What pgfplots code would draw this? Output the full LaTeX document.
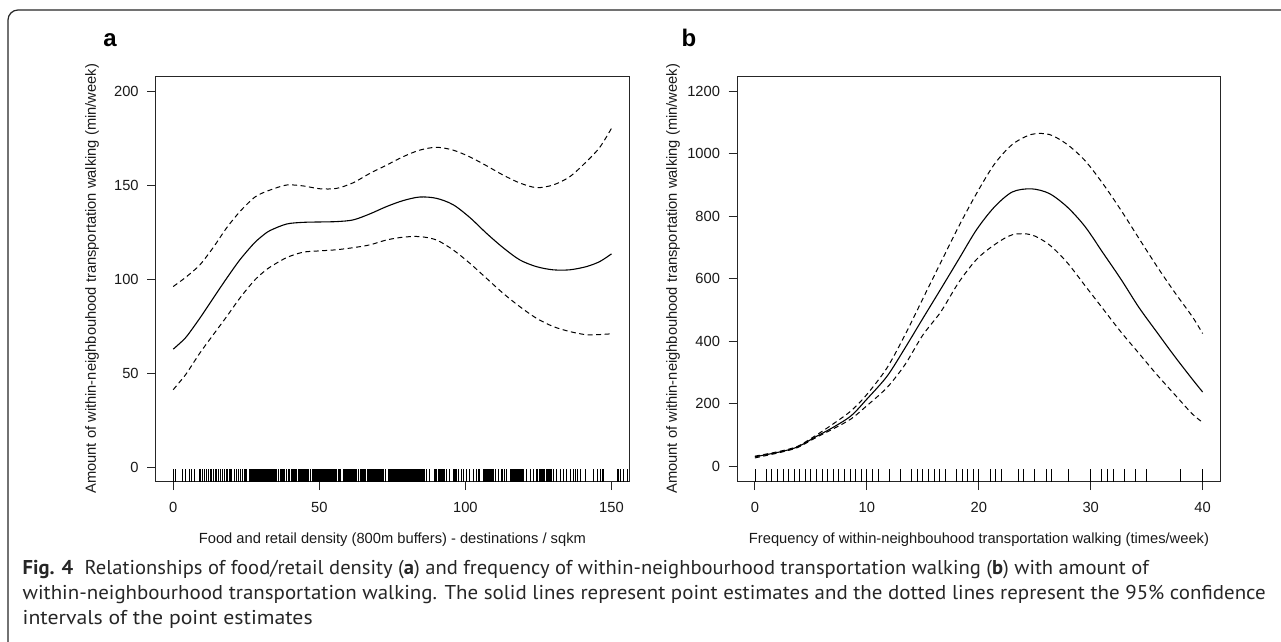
\documentclass[border=0pt]{standalone}
\usepackage{pgfplots}
\usepackage{pgfplotstable}
\pgfplotsset{compat=1.18}
\usepackage{fontspec}
\setmainfont{Liberation Sans}
\newfontfamily\capfont{PT Sans}
\usepackage{graphicx}

% panel a: smooth estimate and 95% CI
\pgfplotstableread{
x     est    lo     up
0     62.8   41.2   96.2
2.3   66.0   45.5   98.8
4.6   69.6   50.0   101.5
9.1   79.3   60.7   107.7
13.7  90.0   70.5   117.0
18.3  100.6  80.2   127.5
22.8  110.4  90.0   136.1
27.4  118.8  98.8   143.2
30.2  122.8  103.0  145.8
33.1  126.0  106.5  147.6
38.8  129.5  111.6  150.3
44.5  130.4  114.5  149.8
50.2  130.6  115.2  148.3
55.9  130.8  115.8  148.5
61.6  131.7  116.9  151.5
67.3  134.9  118.4  156.5
73.0  138.8  121.0  160.9
78.7  142.0  122.5  165.4
84.4  143.9  122.8  168.9
90.1  143.2  121.0  170.4
95.8  139.8  115.7  168.9
101.5 133.0  108.6  165.3
107.2 124.6  100.6  160.6
112.9 116.9  92.6   155.6
118.6 110.4  85.5   151.4
124.3 106.8  79.3   148.9
130.0 105.1  74.9   150.3
135.7 105.1  72.2   154.7
141.4 106.8  70.5   162.7
146.0 109.5  70.6   170.4
150   113.6  71.0   180.5
}\fita

% panel b
\pgfplotstableread{
x     est   lo    up
0     29.5  26    31.6
2.2   45    43    47
3.8   61    59    63
5.4   93    90    97
7.0   124   119   135
8.6   161   151   177
10    214   193   229
11.8  287   251   314
13.4  377   324   419
15.0  472   419   535
16.6  566   493   651
18.2  661   587   766
19.8  756   661   872
21.4  829   708   966
23.0  877   740   1029
24.7  887   740   1061
26.3  872   708   1061
27.9  829   651   1029
29.5  766   577   977
31.1  682   503   903
32.7  598   429   819
34.3  508   361   729
35.9  429   293   640
37.5  351   229   556
39.1  277   166   477
40    237   140   424
}\fitb

\pgfplotsset{
  rplot/.style={
    scale only axis, height=405.5pt,
    axis line style={black!85, line width=0.9pt},
    tick style={black!85, line width=0.9pt},
    tick align=outside, major tick length=8.5pt,
    xtick pos=bottom, ytick pos=left,
    ticklabel style={font=\fontsize{14.7}{14.7}\selectfont, text=black!90},
    xticklabel shift=9pt, yticklabel shift=5pt,
    /pgf/number format/assume math mode=true,
    /pgf/number format/1000 sep={},
    clip=false,
  },
  est/.style={black, line width=1.1pt, smooth, no markers},
  ci/.style={black, line width=1pt, smooth, no markers, dash pattern=on 5pt off 3.5pt},
  rug/.style={only marks, mark=|, mark size=6.1pt, mark options={line width=0.8pt, black}},
}

\newcommand{\lbl}{\fontsize{14.7}{14.7}\selectfont}
\newcommand{\capfs}{\capfont\fontsize{20}{20}\selectfont}

\begin{document}
\begin{tikzpicture}[x=1pt,y=1pt]
\path[use as bounding box] (0,0) rectangle (1281,641);
\draw[line width=1.2pt, black!85, rounded corners=10pt] (8,-20) -- (8,631) -- (1300,631);

\begin{axis}[rplot, at={(155.7pt,159.5pt)}, anchor=south west, width=473.3pt,
  xmin=-6, xmax=156, ymin=-7.73, ymax=208.4,
  xtick={0,50,100,150}, ytick={0,50,100,150,200}]
\addplot[est] table[x=x, y=est] {\fita};
\addplot[ci] table[x=x, y=up] {\fita};
\addplot[ci] table[x=x, y=lo] {\fita};
% rug of observed food/retail density
\addplot[rug] coordinates {
(0,-4.5)(0.9,-4.5)(3.1,-4.5)(4.2,-4.5)(5.4,-4.5)(6.3,-4.5)(7.2,-4.5)(8.9,-4.5)(9.3,-4.5)(10.0,-4.5)(10.6,-4.5)(11.4,-4.5)(12.1,-4.5)(12.6,-4.5)(13.2,-4.5)(13.7,-4.5)(14.3,-4.5)(14.9,-4.5)(15.6,-4.5)(16.2,-4.5)(16.9,-4.5)(17.4,-4.5)(18.1,-4.5)(18.6,-4.5)(19.2,-4.5)(19.5,-4.5)(19.8,-4.5)(20.0,-4.5)(20.8,-4.5)(21.7,-4.5)(22.3,-4.5)(22.9,-4.5)(23.8,-4.5)(24.3,-4.5)(24.6,-4.5)(24.9,-4.5)(25.2,-4.5)(25.9,-4.5)
(26.3,-4.5)(26.6,-4.5)(26.9,-4.5)(27.2,-4.5)(27.5,-4.5)(27.8,-4.5)(28.1,-4.5)(28.4,-4.5)(28.7,-4.5)(29.0,-4.5)(29.3,-4.5)(29.6,-4.5)(29.9,-4.5)(30.2,-4.5)(30.5,-4.5)(30.8,-4.5)(31.1,-4.5)(31.4,-4.5)(31.7,-4.5)(32.0,-4.5)(32.3,-4.5)(32.6,-4.5)(32.9,-4.5)(33.2,-4.5)(33.5,-4.5)(33.8,-4.5)(34.1,-4.5)(34.4,-4.5)(34.7,-4.5)(35.0,-4.5)(35.3,-4.5)
(36.0,-4.5)(36.6,-4.5)(37.0,-4.5)(37.4,-4.5)(37.8,-4.5)(38.2,-4.5)(38.6,-4.5)(38.9,-4.5)(39.5,-4.5)(39.9,-4.5)(40.3,-4.5)(40.7,-4.5)(41.1,-4.5)(41.5,-4.5)(41.9,-4.5)(42.3,-4.5)(42.9,-4.5)(43.2,-4.5)(43.5,-4.5)(43.8,-4.5)(44.1,-4.5)(44.4,-4.5)(44.7,-4.5)(45.0,-4.5)(45.3,-4.5)(45.6,-4.5)(45.9,-4.5)(46.2,-4.5)(46.9,-4.5)
(47.5,-4.5)(47.8,-4.5)(48.1,-4.5)(48.4,-4.5)(48.7,-4.5)(49.0,-4.5)(49.3,-4.5)(49.6,-4.5)(49.9,-4.5)(50.2,-4.5)(50.5,-4.5)(50.8,-4.5)(51.1,-4.5)(51.4,-4.5)(51.7,-4.5)(52.0,-4.5)(52.3,-4.5)(52.6,-4.5)(52.9,-4.5)(53.2,-4.5)(53.5,-4.5)(53.8,-4.5)(54.1,-4.5)(54.4,-4.5)(54.7,-4.5)(55.0,-4.5)(55.3,-4.5)(55.6,-4.5)(55.9,-4.5)
(56.6,-4.5)(56.9,-4.5)(57.2,-4.5)(58.1,-4.5)(58.6,-4.5)(58.9,-4.5)(59.2,-4.5)(59.5,-4.5)(59.8,-4.5)(60.1,-4.5)(60.4,-4.5)(60.7,-4.5)(61.0,-4.5)(61.3,-4.5)(61.6,-4.5)(61.9,-4.5)(62.2,-4.5)(62.5,-4.5)(62.8,-4.5)(63.5,-4.5)(63.9,-4.5)(64.3,-4.5)(64.7,-4.5)(65.1,-4.5)(65.5,-4.5)(65.8,-4.5)
(66.4,-4.5)(66.7,-4.5)(67.0,-4.5)(67.3,-4.5)(67.6,-4.5)(67.9,-4.5)(68.2,-4.5)(68.5,-4.5)(68.8,-4.5)(69.1,-4.5)(69.4,-4.5)(69.7,-4.5)(70.0,-4.5)(70.3,-4.5)(70.6,-4.5)(70.9,-4.5)(71.2,-4.5)(71.5,-4.5)(71.8,-4.5)(72.1,-4.5)(72.7,-4.5)(73.5,-4.5)
(74.0,-4.5)(74.4,-4.5)(74.7,-4.5)(75.0,-4.5)(75.3,-4.5)(75.6,-4.5)(75.9,-4.5)(76.2,-4.5)(76.5,-4.5)(76.8,-4.5)(77.1,-4.5)(77.4,-4.5)(77.7,-4.5)(78.0,-4.5)(78.3,-4.5)(78.6,-4.5)(78.9,-4.5)(79.2,-4.5)(79.5,-4.5)(79.8,-4.5)(80.1,-4.5)(80.4,-4.5)(80.7,-4.5)(81.0,-4.5)(81.3,-4.5)(81.6,-4.5)(81.9,-4.5)(82.2,-4.5)(82.5,-4.5)(82.8,-4.5)(83.1,-4.5)(83.4,-4.5)(83.7,-4.5)(84.0,-4.5)(84.3,-4.5)(84.6,-4.5)(84.9,-4.5)(85.2,-4.5)(85.5,-4.5)(85.8,-4.5)
(86.6,-4.5)(87.7,-4.5)(89.4,-4.5)(89.8,-4.5)(90.2,-4.5)(90.6,-4.5)(91.0,-4.5)(91.4,-4.5)(91.8,-4.5)(92.2,-4.5)(92.6,-4.5)(92.9,-4.5)(93.4,-4.5)(94.4,-4.5)(95.8,-4.5)(96.2,-4.5)(96.6,-4.5)(96.9,-4.5)(97.5,-4.5)(98.6,-4.5)(99.4,-4.5)(100.3,-4.5)(101.5,-4.5)(102.6,-4.5)(103.6,-4.5)(104.4,-4.5)(104.9,-4.5)
(106.1,-4.5)(106.4,-4.5)(106.7,-4.5)(107.0,-4.5)(107.3,-4.5)(107.6,-4.5)(107.9,-4.5)(108.2,-4.5)(108.5,-4.5)(108.8,-4.5)(109.1,-4.5)(109.5,-4.5)(110.1,-4.5)(111.2,-4.5)(112.4,-4.5)(112.8,-4.5)(113.2,-4.5)(113.5,-4.5)(114.1,-4.5)
(115.3,-4.5)(115.6,-4.5)(115.9,-4.5)(116.2,-4.5)(116.5,-4.5)(116.8,-4.5)(117.1,-4.5)(117.4,-4.5)(117.7,-4.5)(118.0,-4.5)(118.3,-4.5)(118.6,-4.5)(118.9,-4.5)(119.2,-4.5)(119.5,-4.5)(119.8,-4.5)(121.0,-4.5)(122.1,-4.5)(123.3,-4.5)
(124.4,-4.5)(124.8,-4.5)(125.2,-4.5)(125.6,-4.5)(126.0,-4.5)(126.4,-4.5)(126.8,-4.5)(127.2,-4.5)(127.6,-4.5)(128.0,-4.5)(128.4,-4.5)(128.8,-4.5)(129.2,-4.5)(129.6,-4.5)(130.0,-4.5)(131.3,-4.5)(132.5,-4.5)(133.6,-4.5)(134.7,-4.5)(135.9,-4.5)(137.0,-4.5)(137.5,-4.5)(138.2,-4.5)(139.3,-4.5)
(141.1,-4.5)(143.9,-4.5)(145.1,-4.5)(146.2,-4.5)(146.8,-4.5)(147.4,-4.5)(151.9,-4.5)(152.5,-4.5)(153.1,-4.5)(154.2,-4.5)(155.4,-4.5)
};
\end{axis}

\begin{axis}[rplot, at={(737pt,159.5pt)}, anchor=south west, width=483.5pt,
  xmin=-1.6, xmax=41.6, ymin=-49.5, ymax=1248,
  xtick={0,10,20,30,40}, ytick={0,200,400,600,800,1000,1200}]
\addplot[est] table[x=x, y=est] {\fitb};
\addplot[ci] table[x=x, y=up] {\fitb};
\addplot[ci] table[x=x, y=lo] {\fitb};
% rug of observed walking frequency
\addplot[rug] coordinates {
(0,-30)(1,-30)(1.5,-30)(2,-30)(2.5,-30)(3,-30)(3.5,-30)(4,-30)(4.5,-30)(5,-30)(5.5,-30)(6,-30)(6.5,-30)(7,-30)(7.5,-30)(8,-30)(8.5,-30)(9,-30)(9.5,-30)(10,-30)(10.5,-30)(11,-30)(12,-30)(13,-30)(14,-30)(14.5,-30)(15,-30)(15.5,-30)(16,-30)(16.5,-30)(17,-30)
(18,-30)(18.5,-30)(19,-30)(19.5,-30)(20,-30)(21,-30)(21.5,-30)(22,-30)(23.5,-30)(24,-30)(25,-30)(26,-30)(26.5,-30)(28,-30)(30,-30)(31,-30)(31.5,-30)(32,-30)(33,-30)(34,-30)(35,-30)(38,-30)(40,-30)
};
\end{axis}

\node[font=\fontsize{24}{24}\selectfont\bfseries] at (110,601) {a};
\node[font=\fontsize{24}{24}\selectfont\bfseries] at (689,603) {b};

\node[rotate=90, font=\lbl, text=black!90] at (92,362.25) {Amount of within-neighbouhood transportation walking (min/week)};
\node[rotate=90, font=\lbl, text=black!90] at (673,362.25) {Amount of within-neighbouhood transportation walking (min/week)};
\node[font=\lbl, text=black!90] at (392.4,101) {Food and retail density (800m buffers) - destinations / sqkm};
\node[font=\lbl, text=black!90] at (979,101) {Frequency of within-neighbouhood transportation walking (times/week)};

\node[anchor=base west, inner sep=0pt, font=\capfs, text=black!85] at (22.5,67) {\resizebox{1126pt}{\height}{\textbf{Fig. 4}\hspace{0.55em}Relationships of food/retail density (\textbf{a}) and frequency of within-neighbourhood transportation walking (\textbf{b}) with amount of}};
\node[anchor=base west, inner sep=0pt, font=\capfs, text=black!85] at (22.5,42) {\resizebox{1243pt}{\height}{within-neighbourhood transportation walking. The solid lines represent point estimates and the dotted lines represent the 95\% confidence}};
\node[anchor=base west, inner sep=0pt, font=\capfs, text=black!85] at (22.5,17) {\resizebox{290pt}{\height}{intervals of the point estimates}};
\end{tikzpicture}
\end{document}
